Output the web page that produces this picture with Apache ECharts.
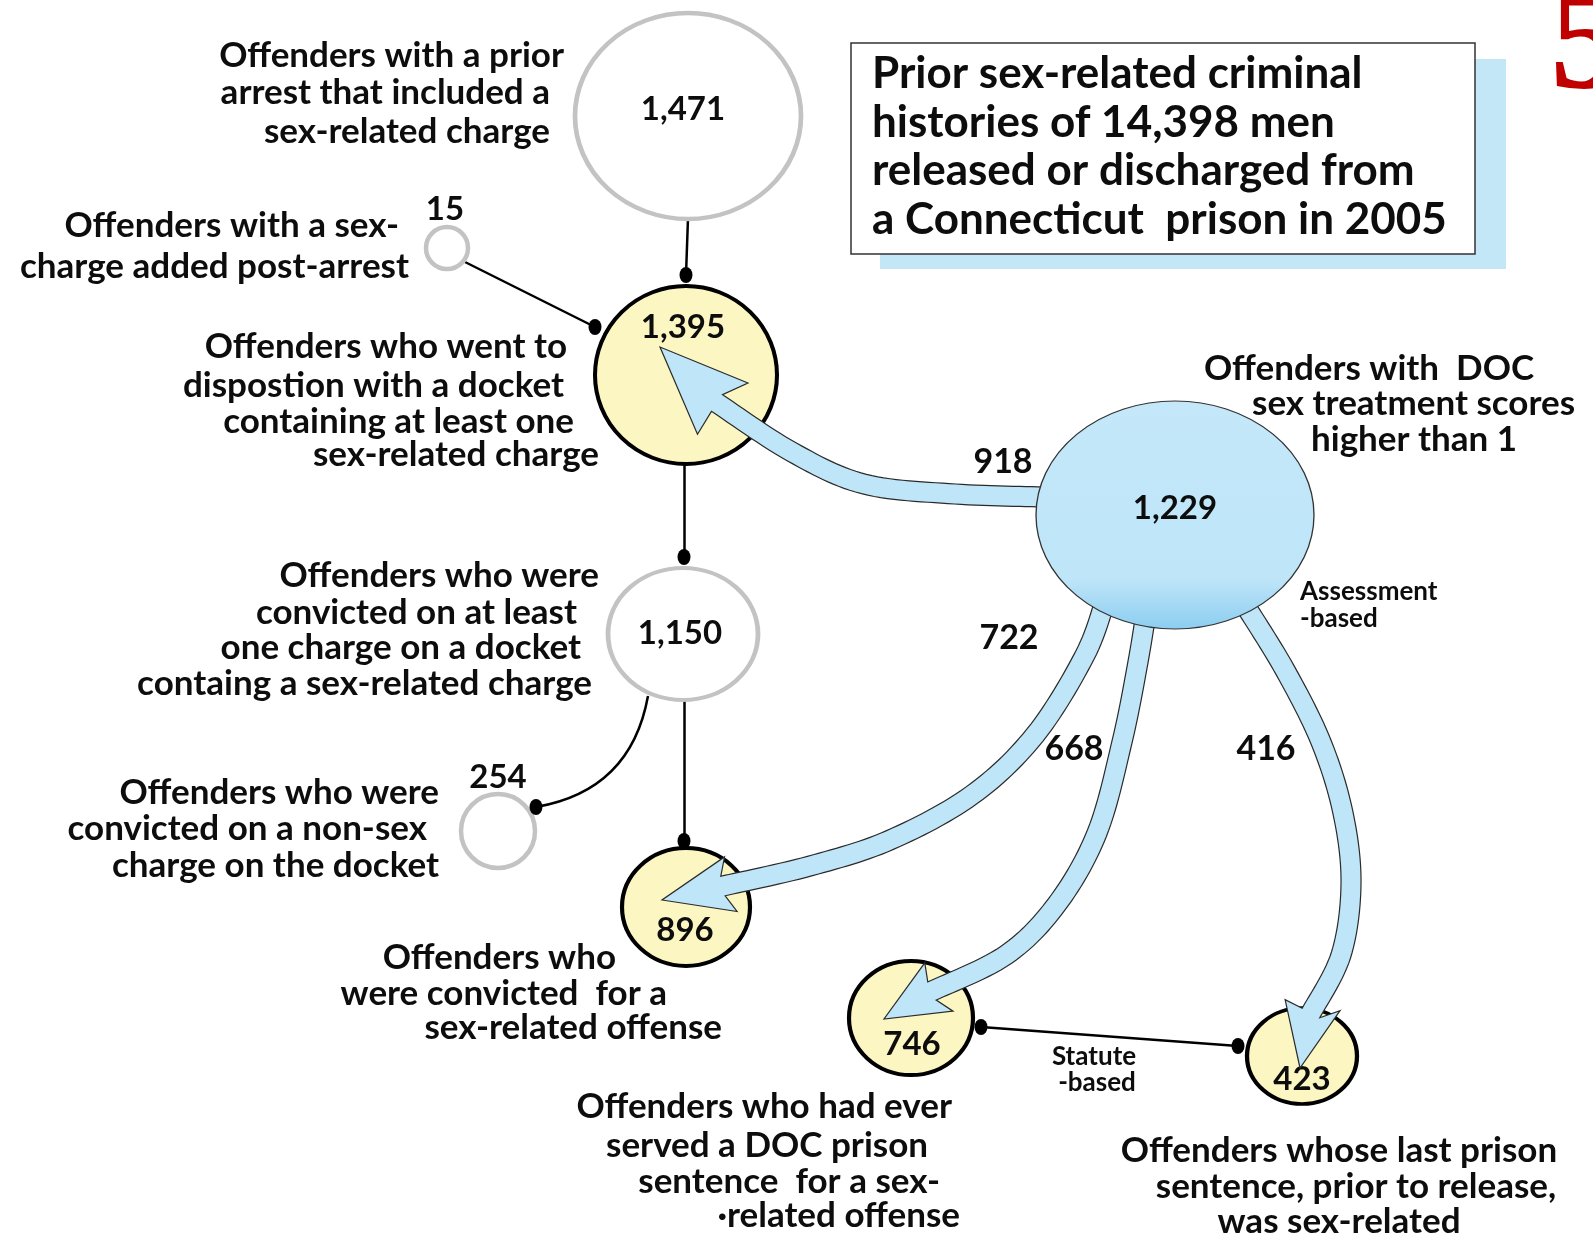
<!DOCTYPE html>
<html>
<head>
<meta charset="utf-8">
<script src="https://cdn.jsdelivr.net/npm/echarts@6/dist/echarts.min.js"></script>
<style>
  html, body { margin: 0; padding: 0; background: #fff; }
  #chart { width: 1593px; height: 1238px; }
</style>
</head>
<body>
<div id="chart"></div>
<script>
// counts of offenders in each group
const nodeValues = [1471, 15, 1395, 1229, 1150, 254, 896, 746, 423];
const nodeKinds = ['gray', 'gray', 'yellow', 'blue', 'gray', 'gray', 'yellow', 'yellow', 'yellow'];
// flows out of the DOC-score group (918 -> 1,395 ; 722 -> 896 ; 668 -> 746 ; 416 -> 423)
const flowValues = [918, 722, 668, 416];

const titleLines = [
  'Prior sex-related criminal',
  'histories of 14,398 men',
  'released or discharged from',
  'a Connecticut  prison in 2005'
];

const descBlocks = [
  ['Offenders with a prior', 'arrest that included a', 'sex-related charge'],
  ['Offenders with a sex-', 'charge added post-arrest'],
  ['Offenders who went to', 'dispostion with a docket', 'containing at least one', 'sex-related charge'],
  ['Offenders who were', 'convicted on at least', 'one charge on a docket', 'containg a sex-related charge'],
  ['Offenders who were', 'convicted on a non-sex', 'charge on the docket'],
  ['Offenders who', 'were convicted  for a', 'sex-related offense'],
  ['Offenders who had ever', 'served a DOC prison', 'sentence  for a sex-', '\u00b7related offense'],
  ['Offenders with  DOC', 'sex treatment scores', 'higher than 1'],
  ['Offenders whose last prison', 'sentence, prior to release,', 'was sex-related']
];

// ---- layout (picture pixel space, axes run 0..1593 and 0..1238) ----
const nodePos = [[688, 116], [447, 248], [686, 375], [1175, 515], [683, 634], [498, 831], [686, 907], [911, 1018], [1302, 1056]];
const nodeRadii = [[113, 103], [21, 21], [91, 89], [139, 114], [75, 66], [37, 37], [64, 59], [62, 57], [55, 48]];
const valueOffset = [[-5, -7], [-2, -39], [-3, -48], [0, -7], [-3, -1], [0, -54], [-1, 23], [1, 26], [0, 23]];

const connectors = [
  { coords: [[688, 218], [686, 275]], curve: 0 },
  { coords: [[465, 262], [595, 327]], curve: 0 },
  { coords: [[684, 464], [684, 557]], curve: 0 },
  { coords: [[684, 700], [684, 841]], curve: 0 },
  { coords: [[648, 696], [536, 807]], curve: 0.35 },
  { coords: [[981, 1027], [1238, 1046]], curve: 0 }
];
const dotPos = [[686, 275], [595, 327], [684, 557], [684, 841], [536, 807], [981, 1027], [1238, 1046]];

const flowPaths = [
  [[1045, 497], [955, 494], [864, 484], [792, 452], [717, 403]],
  [[1106, 598], [1085, 655], [1035, 735], [972, 795], [890, 840], [810, 866], [723, 886]],
  [[1148, 600], [1138, 662], [1122, 742], [1097, 833], [1057, 904], [1006, 955], [932, 991]],
  [[1245, 605], [1285, 670], [1321, 742], [1343, 813], [1351, 884], [1341, 955], [1311, 1013]]
];
const flowTips = [[660, 347], [662, 900], [884, 1019], [1300, 1068]];
const flowLabelPos = [[1003, 462], [1009, 638], [1074, 749], [1266, 749]];

const descX = [[564, 550, 550], [399, 409], [567, 564, 574, 599], [599, 577, 581, 592], [439, 427, 439],
  [616, 667, 722], [952, 928, 940, 960], [1204, 1252, 1311], [1339, 1356, 1339]];
const descY = [[56, 93, 132], [226, 267], [347, 386, 422, 455], [576, 613, 648, 684], [793, 829, 866],
  [958, 994, 1028], [1107, 1146, 1182, 1216], [369, 404, 440], [1151, 1187, 1222]];
const descAlign = ['right', 'right', 'right', 'right', 'right', 'right', 'right', 'left', 'center'];

const FONT = 'Lato, "Open Sans", sans-serif';
const TXT = '#0d0d0d';

const kindStyle = {
  gray: { color: '#fff', borderColor: '#c3c3c3', borderWidth: 4.5, opacity: 1 },
  yellow: { color: '#fcf6c2', borderColor: '#000', borderWidth: 4, opacity: 1 },
  blue: {
    color: new echarts.graphic.LinearGradient(0, 0, 0, 1, [
      { offset: 0, color: '#c4e8fa' },
      { offset: 0.78, color: '#bee5f8' },
      { offset: 1, color: '#8ccdf0' }
    ]),
    borderColor: '#333', borderWidth: 1.2, opacity: 1
  }
};

function nodeItem(i) {
  return {
    value: nodePos[i],
    symbolSize: [nodeRadii[i][0] * 2, nodeRadii[i][1] * 2],
    itemStyle: kindStyle[nodeKinds[i]],
    label: {
      show: true,
      position: 'inside',
      offset: valueOffset[i],
      formatter: () => nodeValues[i].toLocaleString('en-US'),
      fontSize: 33,
      fontWeight: 'bold',
      fontFamily: FONT,
      color: TXT
    }
  };
}

// smooth the centre line of a flow
function smooth(pts, n) {
  const out = [];
  for (let i = 0; i < pts.length - 1; i++) {
    const p0 = pts[Math.max(i - 1, 0)], p1 = pts[i], p2 = pts[i + 1], p3 = pts[Math.min(i + 2, pts.length - 1)];
    for (let k = 0; k < n; k++) {
      const t = k / n, t2 = t * t, t3 = t2 * t;
      out.push([0, 1].map(j => 0.5 * (2 * p1[j] + (-p0[j] + p2[j]) * t +
        (2 * p0[j] - 5 * p1[j] + 4 * p2[j] - p3[j]) * t2 + (-p0[j] + 3 * p1[j] - 3 * p2[j] + p3[j]) * t3)));
    }
  }
  out.push(pts[pts.length - 1]);
  return out;
}

function renderFlow(params, api) {
  const i = params.dataIndex;
  const c = smooth(flowPaths[i].map(p => api.coord(p)), 14);
  const tip = api.coord(flowTips[i]);
  const hw = 10, hh = i === 0 ? 36 : 28;
  const left = [], right = [];
  for (let k = 0; k < c.length; k++) {
    const a = c[Math.max(k - 1, 0)], b = c[Math.min(k + 1, c.length - 1)];
    const dx = b[0] - a[0], dy = b[1] - a[1], L = Math.hypot(dx, dy) || 1;
    const nx = -dy / L, ny = dx / L;
    left.push([c[k][0] + nx * hw, c[k][1] + ny * hw]);
    right.push([c[k][0] - nx * hw, c[k][1] - ny * hw]);
  }
  const base = c[c.length - 1];
  const dx = tip[0] - base[0], dy = tip[1] - base[1], L = Math.hypot(dx, dy);
  const nx = -dy / L, ny = dx / L, ux = dx / L, uy = dy / L;
  // barbed head: corners pulled back a little behind the base
  const back = 8;
  const points = left.concat(
    [[base[0] + nx * hh - ux * back, base[1] + ny * hh - uy * back], tip,
     [base[0] - nx * hh - ux * back, base[1] - ny * hh - uy * back]],
    right.reverse()
  );
  const lp = api.coord(flowLabelPos[i]);
  return {
    type: 'group',
    children: [
      { type: 'polygon', shape: { points }, style: { fill: '#bfe5f8', stroke: '#2a2a2a', lineWidth: 1.2 } },
      {
        type: 'text', x: lp[0], y: lp[1],
        style: { text: String(flowValues[i]), fontSize: 34, fontWeight: 'bold', fontFamily: FONT, fill: TXT, align: 'center', verticalAlign: 'middle' }
      }
    ]
  };
}

function textEl(text, x, y, size, align) {
  return {
    type: 'text', x, y, z: 20,
    style: {
      text, fontSize: size, fontWeight: 'bold', fontFamily: FONT, fill: TXT,
      align, verticalAlign: 'middle', textAlign: align, textVerticalAlign: 'middle'
    }
  };
}

const graphics = [
  { type: 'rect', shape: { x: 880, y: 59, width: 626, height: 210 }, style: { fill: '#c4e7f8' }, z: 10 },
  { type: 'rect', shape: { x: 851, y: 43, width: 624, height: 211 }, style: { fill: '#fff', stroke: '#333', lineWidth: 1.5 }, z: 11 },
  {
    type: 'text', x: 1550, y: -26, z: 20,
    style: {
      text: '5', fontSize: 150, fontWeight: 'bold', fontFamily: '"Liberation Serif", "DejaVu Serif", serif', fill: '#c00000',
      align: 'left', verticalAlign: 'top', textAlign: 'left', textVerticalAlign: 'top'
    }
  },
  textEl('Assessment', 1300, 592, 26, 'left'),
  textEl('-based', 1300, 619, 26, 'left'),
  textEl('Statute', 1094, 1057, 26, 'center'),
  textEl('-based', 1097, 1083, 26, 'center')
];
titleLines.forEach((t, k) => graphics.push(textEl(t, 872, 74 + k * 48.5, 44, 'left')));
descBlocks.forEach((lines, b) => {
  lines.forEach((t, k) => graphics.push(textEl(t, descX[b][k], descY[b][k], 35, descAlign[b])));
});

const chart = echarts.init(document.getElementById('chart'));
chart.setOption({
  backgroundColor: '#fff',
  animation: false,
  grid: { left: 0, right: 0, top: 0, bottom: 0 },
  xAxis: { type: 'value', min: 0, max: 1593, show: false },
  yAxis: { type: 'value', min: 0, max: 1238, inverse: true, show: false },
  graphic: graphics,
  series: [
    {
      type: 'lines',
      coordinateSystem: 'cartesian2d',
      z: 1,
      lineStyle: { color: '#000', width: 2.5, opacity: 1 },
      data: connectors.map(c => ({ coords: c.coords, lineStyle: { curveness: c.curve } }))
    },
    {
      type: 'scatter',
      symbol: 'circle',
      z: 2,
      emphasis: { disabled: true },
      data: nodeValues.map((v, i) => i).filter(i => nodeKinds[i] !== 'blue').map(nodeItem)
    },
    {
      type: 'custom',
      z: 3,
      renderItem: renderFlow,
      data: flowValues.map((v, i) => [flowPaths[i][0][0], flowPaths[i][0][1], v])
    },
    {
      type: 'scatter',
      symbol: 'circle',
      z: 4,
      emphasis: { disabled: true },
      data: nodeValues.map((v, i) => i).filter(i => nodeKinds[i] === 'blue').map(nodeItem)
    },
    {
      type: 'scatter',
      symbol: 'circle',
      symbolSize: [13, 16],
      z: 5,
      itemStyle: { color: '#000', opacity: 1 },
      emphasis: { disabled: true },
      data: dotPos
    }
  ]
});
</script>
</body>
</html>
